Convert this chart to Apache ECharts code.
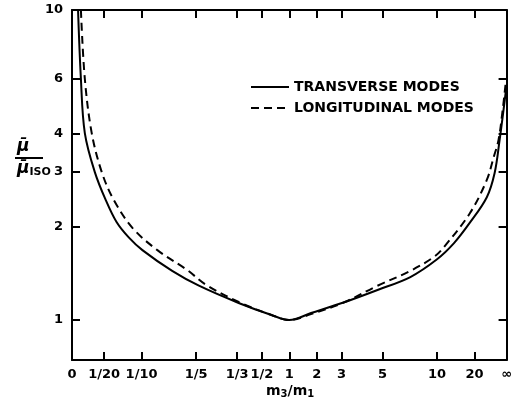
<!DOCTYPE html>
<html>
<head>
<meta charset="UTF-8">
<title>mu ratio</title>
<script src="https://cdn.jsdelivr.net/npm/echarts@6/dist/echarts.min.js" type="text/javascript"></script>
<style>
  body { margin: 0; background: #fff; }
  #chart { width: 515px; height: 409px; }
</style>
</head>
<body>
<div id="chart"></div>
<script>
// x 轴刻度：m3/m1 的位置（相对 1 的对称坐标，-1 = 0，+1 = ∞）
var xTickLabels = ['0', '1/20', '1/10', '1/5', '1/3', '1/2', '1', '2', '3', '5', '10', '20', '\u221e'];
var xTickPos = [-1, -0.852, -0.68, -0.429, -0.24, -0.126, 0, 0.126, 0.24, 0.429, 0.68, 0.852, 1];
var yTicks = [1, 2, 3, 4, 6, 10];

// 横波
var transX = [-0.973, -0.959, -0.941, -0.895, -0.845, -0.795, -0.740, -0.676, -0.539, -0.416, -0.233, -0.082, 0,
              0.1, 0.256, 0.406, 0.557, 0.68, 0.758, 0.831, 0.909, 0.945, 0.968, 0.986, 1.0];
var transY = [10.4, 5.99, 4.01, 3.0, 2.44, 2.07, 1.85, 1.68, 1.44, 1.29, 1.135, 1.038, 1.0,
              1.053, 1.143, 1.25, 1.376, 1.57, 1.77, 2.06, 2.49, 2.98, 3.81, 4.76, 5.73];
// 纵波
var longX = [-0.959, -0.941, -0.909, -0.863, -0.808, -0.721, -0.607, -0.470, -0.384, -0.233, -0.082, 0,
             0.1, 0.256, 0.406, 0.557, 0.667, 0.712, 0.831, 0.909, 0.941, 0.963, 0.982, 0.995];
var longY = [10.0, 6.0, 4.0, 3.0, 2.44, 1.98, 1.68, 1.45, 1.30, 1.143, 1.038, 1.0,
             1.045, 1.143, 1.29, 1.44, 1.6, 1.72, 2.21, 2.83, 3.36, 3.81, 4.76, 5.73];

function pairs(xs, ys) {
    var out = [];
    for (var i = 0; i < xs.length; i++) out.push([xs[i], ys[i]]);
    return out;
}

var font = 'DejaVu Sans';
var myChart = echarts.init(document.getElementById('chart'));

var tickStyle = { show: true, inside: true, length: 8, lineStyle: { color: '#000', width: 2 } };
var lineStyle = { show: true, onZero: false, lineStyle: { color: '#000', width: 2 } };

function xLabel(v) {
    for (var i = 0; i < xTickPos.length; i++) {
        if (Math.abs(xTickPos[i] - v) < 1e-6) return xTickLabels[i];
    }
    return '';
}

option = {
    animation: false,
    backgroundColor: '#fff',
    grid: { left: 72, right: 6, top: 10, bottom: 49 },
    legend: {
        orient: 'vertical',
        left: 245,
        top: 75,
        itemWidth: 38,
        itemHeight: 12,
        itemGap: 7,
        itemStyle: { opacity: 0 },
        textStyle: { fontFamily: font, fontWeight: 'bold', fontSize: 14, color: '#000' },
        data: ['TRANSVERSE MODES', 'LONGITUDINAL MODES']
    },
    xAxis: [
        {
            type: 'value', min: -1, max: 1, position: 'bottom',
            axisLine: lineStyle,
            axisTick: echarts.util.merge({ customValues: xTickPos }, tickStyle),
            axisLabel: {
                customValues: xTickPos, formatter: xLabel, margin: 8,
                fontFamily: font, fontWeight: 'bold', fontSize: 13, color: '#000'
            },
            splitLine: { show: false }
        },
        {
            type: 'value', min: -1, max: 1, position: 'top',
            axisLine: lineStyle,
            axisTick: echarts.util.merge({ customValues: xTickPos }, tickStyle),
            axisLabel: { show: false },
            splitLine: { show: false }
        }
    ],
    yAxis: [
        {
            type: 'log', min: 0.743, max: 10, position: 'left',
            axisLine: lineStyle,
            axisTick: echarts.util.merge({ customValues: yTicks }, tickStyle),
            axisLabel: {
                customValues: yTicks, margin: 9,
                fontFamily: font, fontWeight: 'bold', fontSize: 13, color: '#000'
            },
            splitLine: { show: false }
        },
        {
            type: 'log', min: 0.743, max: 10, position: 'right',
            axisLine: lineStyle,
            axisTick: echarts.util.merge({ customValues: yTicks }, tickStyle),
            axisLabel: { show: false },
            splitLine: { show: false }
        }
    ],
    series: [
        {
            name: 'TRANSVERSE MODES', type: 'line', smooth: 0.35, symbol: 'none',
            xAxisIndex: 0, yAxisIndex: 0, color: '#000',
            lineStyle: { color: '#000', width: 2, type: 'solid' },
            data: pairs(transX, transY)
        },
        {
            name: 'LONGITUDINAL MODES', type: 'line', smooth: 0.35, symbol: 'none',
            xAxisIndex: 0, yAxisIndex: 0, color: '#000',
            lineStyle: { color: '#000', width: 2, type: [8, 5] },
            data: pairs(longX, longY)
        }
    ],
    graphic: [
        { type: 'text', left: 17, top: 138,
          style: { text: '\u03bc\u0304', font: 'italic bold 17px ' + font, fill: '#000' } },
        { type: 'line', shape: { x1: 15, y1: 158, x2: 43, y2: 158 },
          style: { stroke: '#000', lineWidth: 2 } },
        { type: 'text', left: 17, top: 160,
          style: {
              text: '{m|\u03bc\u0304}{s|ISO}',
              rich: {
                  m: { font: 'italic bold 17px ' + font, fill: '#000' },
                  s: { font: 'bold 11px ' + font, fill: '#000', padding: [8, 0, 0, 0] }
              }
          } },
        { type: 'text', left: 266, top: 384,
          style: {
              text: '{m|m}{s|3}{m|/m}{s|1}',
              rich: {
                  m: { font: 'bold 14px ' + font, fill: '#000' },
                  s: { font: 'bold 10px ' + font, fill: '#000', padding: [7, 0, 0, 0] }
              }
          } }
    ]
};

myChart.setOption(option);
</script>
</body>
</html>
